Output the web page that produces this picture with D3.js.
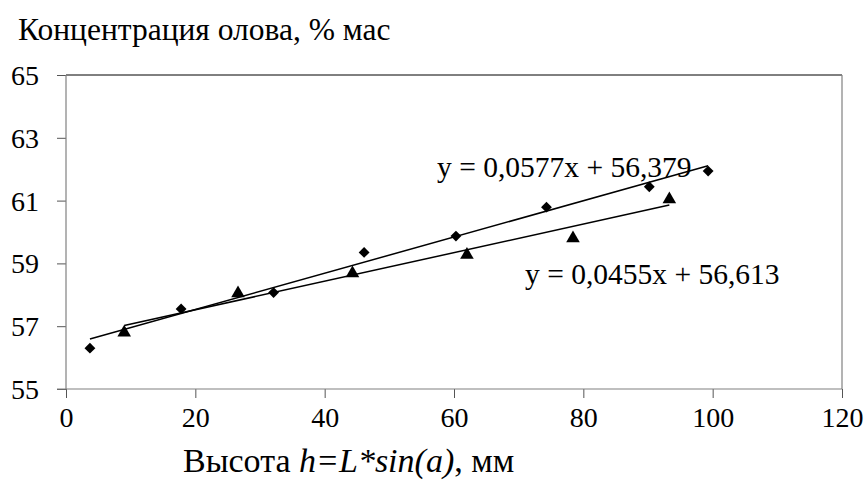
<!DOCTYPE html>
<html lang="ru">
<head>
<meta charset="UTF-8">
<title>Концентрация олова</title>
<script src="https://d3js.org/d3.v7.min.js"></script>
<style>
  body { margin: 0; background: #fff; }
</style>
</head>
<body>
<svg width="866" height="482"></svg>
<script>
// diamonds (series 1)
const diamondX = [3.7, 17.8, 32.1, 46.1, 60.3, 74.3, 90.2, 99.3];
const diamondY = [56.3, 57.55, 58.07, 59.35, 59.87, 60.79, 61.44, 61.94];
// triangles (series 2)
const triangleX = [9.0, 26.6, 44.3, 62.0, 78.4, 93.3];
const triangleY = [56.8, 58.05, 58.68, 59.27, 59.80, 61.04];
// linear trend coefficients [slope, intercept]
const trendDiamond = [0.0577, 56.379];
const trendTriangle = [0.0455, 56.613];
const xTicks = [0, 20, 40, 60, 80, 100, 120];
const yTicks = [55, 57, 59, 61, 63, 65];

const serif = "'Liberation Serif', 'Times New Roman', 'DejaVu Serif', serif";
const svg = d3.select("svg").attr("font-family", serif);
const plotLeft = 66, plotRight = 842, plotTop = 75, plotBottom = 389;

const x = d3.scaleLinear().domain([0, 120]).range([plotLeft, plotRight]);
const y = d3.scaleLinear().domain([55, 65]).range([plotBottom, plotTop]);

// plot frame: top and right
svg.append("line").attr("x1", plotLeft).attr("x2", plotRight).attr("y1", plotTop).attr("y2", plotTop)
  .attr("stroke", "#000").attr("stroke-width", 1);
svg.append("line").attr("x1", plotRight).attr("x2", plotRight).attr("y1", plotTop).attr("y2", plotBottom)
  .attr("stroke", "#808080").attr("stroke-width", 1.2);

// axes
const xAxis = svg.append("g")
  .attr("transform", "translate(0," + plotBottom + ")")
  .call(d3.axisBottom(x).tickValues(xTicks).tickSize(9).tickPadding(7).tickFormat(d3.format("d")));
const yAxis = svg.append("g")
  .attr("transform", "translate(" + plotLeft + ",0)")
  .call(d3.axisLeft(y).tickValues(yTicks).tickSize(9).tickPadding(18).tickFormat(d3.format("d")));

[xAxis, yAxis].forEach(a => {
  a.attr("font-family", serif).attr("font-size", 28);
  a.select(".domain").remove();
  a.selectAll("line").attr("stroke", "#555");
  a.selectAll("text").attr("fill", "#000");
});
yAxis.selectAll("text").attr("dy", "0.34em");
xAxis.selectAll("text").attr("dy", "0.8em");

// axis lines
svg.append("line").attr("x1", plotLeft).attr("x2", plotLeft).attr("y1", plotTop).attr("y2", plotBottom)
  .attr("stroke", "#808080").attr("stroke-width", 1.2);
svg.append("line").attr("x1", plotLeft - 9).attr("x2", plotRight).attr("y1", plotBottom).attr("y2", plotBottom)
  .attr("stroke", "#808080").attr("stroke-width", 1.2);

// trend lines
function trend(xs, c) {
  const x0 = d3.min(xs), x1 = d3.max(xs);
  return [[x0, c[0] * x0 + c[1]], [x1, c[0] * x1 + c[1]]];
}
const line = d3.line().x(d => x(d[0])).y(d => y(d[1]));
svg.append("path").datum(trend(diamondX, trendDiamond)).attr("d", line)
  .attr("fill", "none").attr("stroke", "#000").attr("stroke-width", 1.5);
svg.append("path").datum(trend(triangleX, trendTriangle)).attr("d", line)
  .attr("fill", "none").attr("stroke", "#000").attr("stroke-width", 1.5);

// markers
svg.append("g").selectAll("path")
  .data(diamondX.map((v, i) => [v, diamondY[i]]))
  .join("path")
  .attr("d", d3.symbol(d3.symbolDiamond2, 75))
  .attr("transform", d => "translate(" + x(d[0]) + "," + y(d[1]) + ")")
  .attr("fill", "#000");
svg.append("g").selectAll("path")
  .data(triangleX.map((v, i) => [v, triangleY[i]]))
  .join("path")
  .attr("d", d3.symbol(d3.symbolTriangle, 80))
  .attr("transform", d => "translate(" + x(d[0]) + "," + y(d[1]) + ")")
  .attr("fill", "#000");

// equations
svg.append("text").attr("x", 437).attr("y", 177).attr("font-size", 29.5)
  .text("y = 0,0577x + 56,379");
svg.append("text").attr("x", 525).attr("y", 284).attr("font-size", 29.5)
  .text("y = 0,0455x + 56,613");

// titles
svg.append("text").attr("x", 18).attr("y", 40).attr("font-size", 31.5)
  .text("Концентрация олова, % мас");

const xt = svg.append("text").attr("x", 183).attr("y", 472).attr("font-size", 34);
xt.append("tspan").text("Высота ");
xt.append("tspan").attr("font-style", "italic").text("h=L*sin(a)");
xt.append("tspan").text(", мм");
</script>
</body>
</html>
